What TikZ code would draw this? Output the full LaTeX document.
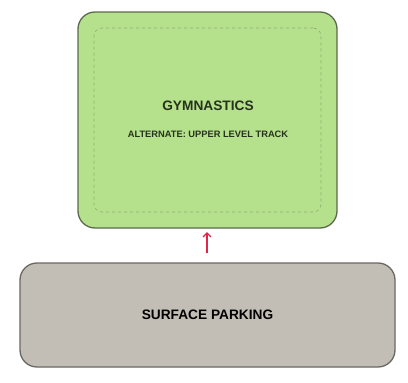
\documentclass[tikz,border=0pt]{standalone}
\usepackage{fontspec}
\setmainfont{Liberation Sans}
\usetikzlibrary{arrows.meta}
\definecolor{gfill}{HTML}{B5E08C}
\definecolor{gdraw}{HTML}{5C6B4E}
\definecolor{gdash}{HTML}{8EAE72}
\definecolor{pfill}{HTML}{C2BEB6}
\definecolor{pdraw}{HTML}{6B6862}
\definecolor{arrowred}{HTML}{E0244C}
\definecolor{gtext}{HTML}{26331C}
\begin{document}
\begin{tikzpicture}[x=1pt,y=-1pt,
  zone/.style={rectangle, rounded corners=17pt, line width=1.3pt, inner sep=0pt, outer sep=0pt},
  lbl/.style={inner sep=0pt}]
\useasboundingbox (0,0) rectangle (408,383);
\fill[white] (0,0) rectangle (408,383);
% gymnastics box
\node[zone, fill=gfill, draw=gdraw, minimum width=259pt, minimum height=216pt] (gym) at (207.5,120) {};
\node[draw=gdash, dashed, line width=0.6pt, rounded corners=8pt, minimum width=227pt, minimum height=184pt, inner sep=0pt] (inner) at (gym.center) {};
\node[lbl, text=gtext, font=\bfseries\fontsize{13.7}{15}\selectfont] (gt) at (208,106) {GYMNASTICS};
\node[lbl, text=gtext, font=\bfseries\fontsize{9.3}{10}\selectfont] (alt) at (208,134) {ALTERNATE: UPPER LEVEL TRACK};
% parking box
\node[zone, fill=pfill, draw=pdraw, minimum width=375pt, minimum height=104pt] (park) at (207.5,315) {};
\node[lbl, text=black, font=\bfseries\fontsize{13.7}{15}\selectfont] (pk) at (207.5,315) {SURFACE PARKING};
% arrow
\draw[arrowred, line width=1.3pt, -{Straight Barb[length=4pt,width=8pt]}, shorten <=10pt, shorten >=4pt] (park.north -| 207,0) -- (gym.south -| 207,0);
\end{tikzpicture}
\end{document}
